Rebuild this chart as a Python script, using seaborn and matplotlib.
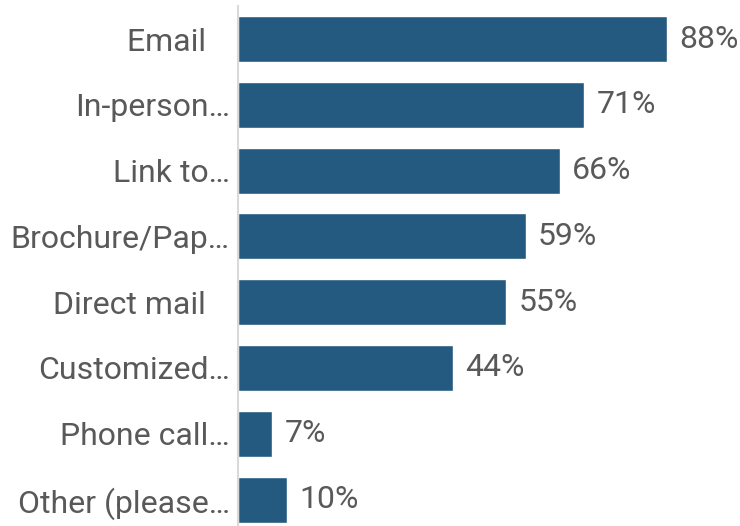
import matplotlib
matplotlib.use("Agg")
import matplotlib.pyplot as plt
import seaborn as sns
import pandas as pd

categories = [
    "Email   ",
    "In-person…",
    "Link to…",
    "Brochure/Pap…",
    "Direct mail   ",
    "Customized…",
    "Phone call…",
    "Other (please…",
]
values = [88, 71, 66, 59, 55, 44, 7, 10]
value_labels = ["88%", "71%", "66%", "59%", "55%", "44%", "7%", "10%"]

BAR_COLOR = "#255A80"
TEXT_COLOR = "#595959"
AXIS_COLOR = "#D9D9D9"
FONT_PT = 23

sns.set_theme(style="white")
plt.rcParams["font.family"] = ["Roboto", "DejaVu Sans"]

df = pd.DataFrame({"channel": categories, "share": values})

W, H = 740, 526
fig = plt.figure(figsize=(W / 100, H / 100), dpi=100)

# axes placed in pixel terms: left edge at the category baseline
left_px, right_px = 238, 740
top_px, bottom_px = 6, 526
ax = fig.add_axes([left_px / W, 1 - bottom_px / H,
                   (right_px - left_px) / W, (bottom_px - top_px) / H])

sns.barplot(data=df, x="share", y="channel", color=BAR_COLOR, width=0.70,
            saturation=1, orient="h", ax=ax)

px_per_unit = (667 - 238) / 88.0
ax.set_xlim(0, (right_px - left_px) / px_per_unit)
step = 65.8
ax.set_ylim((bottom_px - 39) / step, -(39 - top_px) / step)

for i, (v, lab) in enumerate(zip(values, value_labels)):
    ax.annotate(lab, xy=(v, i), xytext=(9, 0), textcoords="offset points",
                ha="left", va="center", fontsize=FONT_PT, color=TEXT_COLOR)

ax.set_xlabel("")
ax.set_ylabel("")
ax.set_xticks([])
ax.tick_params(axis="y", length=0, pad=6, labelsize=FONT_PT, labelcolor=TEXT_COLOR)
for s in ["top", "right", "bottom"]:
    ax.spines[s].set_visible(False)
ax.spines["left"].set_color(AXIS_COLOR)
ax.spines["left"].set_linewidth(1.5)

fig.savefig("out.png", dpi=100)
